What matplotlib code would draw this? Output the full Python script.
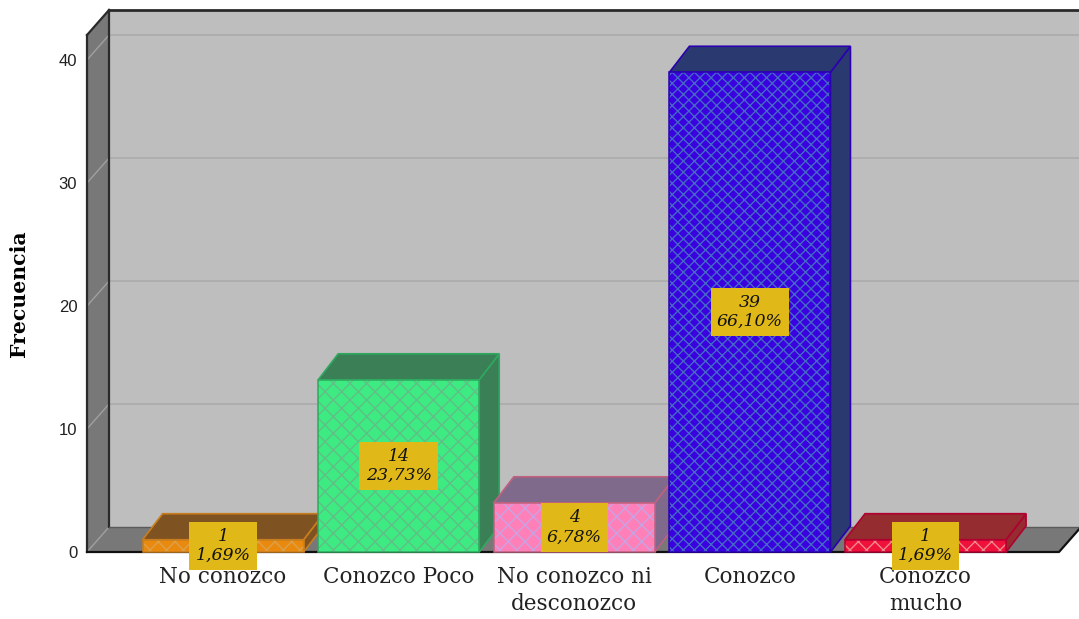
import matplotlib
matplotlib.use('Agg')
import matplotlib.pyplot as plt

categorias = ['No conozco', 'Conozco Poco', 'No conozco ni\ndesconozco', 'Conozco', 'Conozco\nmucho']
frecuencia = [1, 14, 4, 39, 1]
porcentaje = ['1,69%', '23,73%', '6,78%', '66,10%', '1,69%']
yticks = [0, 10, 20, 30, 40]

color_frente = ['#E98A0E', '#3DEB82', '#FF80B8', '#3A00E0', '#F0103C']
color_trama = ['#DCA04A', '#62BE86', '#C8A2E2', '#4468C4', '#F28A8A']
color_borde = ['#C87E1E', '#2FA860', '#C0607F', '#2A00B0', '#B00030']
color_tapa = ['#7F5222', '#3A7F56', '#806A8C', '#2A3A70', '#942C30']
trama = ['xx', 'xx', 'xx', 'xxx', 'xx']

ancho = 0.917
xmin, xmax = -0.775, 4.76
ymax = 42.03
# profundidad del efecto 3D, en unidades de datos
prof_x = 22 / 175.5
prof_y = 25 / 12.3
barra_x = 20 / 175.5
barra_y = 26 / 12.3

plt.rcParams['hatch.linewidth'] = 1.0
fig = plt.figure(figsize=(10.79, 6.19), dpi=100)
ax = fig.add_axes([87 / 1079, 67 / 619, 972 / 1079, 517 / 619])
ax.set_xlim(xmin, xmax)
ax.set_ylim(0, ymax)
for s in ax.spines.values():
    s.set_visible(False)
ax.patch.set_visible(False)

oscuro = '#2A2A2A'
xd = xmax + prof_x + 0.2

# paredes y piso
ax.fill([xmin + prof_x, xd, xd, xmin + prof_x], [prof_y, prof_y, ymax + prof_y, ymax + prof_y],
        color='#BEBEBE', clip_on=False, zorder=1, lw=0)
ax.fill([xmin, xmin + prof_x, xmin + prof_x, xmin], [0, prof_y, ymax + prof_y, ymax],
        color='#787878', clip_on=False, zorder=1, lw=0)
ax.fill([xmin, xmax, xmax + prof_x, xmin + prof_x], [0, 0, prof_y, prof_y],
        color='#787878', clip_on=False, zorder=1, lw=0)

for t in yticks[1:]:
    ax.plot([xmin + prof_x, xd], [t + prof_y, t + prof_y], color='#ABABAB', lw=1.2, clip_on=False, zorder=1.5)
    ax.plot([xmin, xmin + prof_x], [t, t + prof_y], color='#A0A0A0', lw=1, clip_on=False, zorder=1.5)
ax.plot([xmin, xmin + prof_x], [0, prof_y], color='#A0A0A0', lw=1, clip_on=False, zorder=1.5)

ax.plot([xmin + prof_x, xmin + prof_x], [prof_y, ymax + prof_y], color=oscuro, lw=1.6, clip_on=False, zorder=1.6)
ax.plot([xmin + prof_x, xd], [ymax + prof_y, ymax + prof_y], color=oscuro, lw=2, clip_on=False, zorder=1.6)
ax.plot([xmin, xmin], [0, ymax], color=oscuro, lw=1.6, clip_on=False, zorder=1.6)
ax.plot([xmin, xmin + prof_x], [ymax, ymax + prof_y], color=oscuro, lw=1.6, clip_on=False, zorder=1.6)
ax.plot([xmin, xmax, xmax + prof_x], [0, 0, prof_y], color='#111111', lw=1.6, clip_on=False, zorder=1.6)
ax.plot([xmin + prof_x, xd], [prof_y, prof_y], color='#5A5A5A', lw=1, clip_on=False, zorder=1.6)

# barras de izquierda a derecha
for i, v in enumerate(frecuencia):
    z = 2 + i * 0.1
    x0 = i - ancho / 2
    x1 = i + ancho / 2
    ax.fill([x1, x1 + barra_x, x1 + barra_x, x1], [0, barra_y, v + barra_y, v],
            facecolor=color_tapa[i], edgecolor=color_borde[i], lw=1.2, clip_on=False, zorder=z)
    ax.fill([x0, x1, x1 + barra_x, x0 + barra_x], [v, v, v + barra_y, v + barra_y],
            facecolor=color_tapa[i], edgecolor=color_borde[i], lw=1.2, clip_on=False, zorder=z)
    ax.bar(i, v, ancho, color=color_frente[i], edgecolor=color_trama[i], hatch=trama[i],
           linewidth=0, clip_on=False, zorder=z + 0.01)
    ax.bar(i, v, ancho, fill=False, edgecolor=color_borde[i], linewidth=1.1, clip_on=False, zorder=z + 0.02)

ax.set_xticks(range(len(categorias)))
ax.set_xticklabels(categorias, family='DejaVu Serif', fontsize=15.5, fontweight='light',
                   linespacing=1.3, color='#222222')
ax.tick_params(axis='x', length=0, pad=10)
ax.set_yticks(yticks)
ax.set_yticklabels([str(t) for t in yticks], family='Liberation Sans', fontsize=12, color='#222222')
ax.tick_params(axis='y', length=0, pad=7)
ax.set_ylabel('Frecuencia', family='DejaVu Serif', fontweight='bold', fontsize=14.7, labelpad=21)

# etiquetas de cada barra
for i, v in enumerate(frecuencia):
    ax.text(i, v / 2, str(v) + '\n' + porcentaje[i], ha='center', va='center', family='DejaVu Serif',
            style='italic', fontsize=12.5, linespacing=1.15, color='#111111', clip_on=False, zorder=5,
            bbox=dict(boxstyle='square,pad=0.36', fc='#E0B818', ec='none'))

fig.savefig('out.png', dpi=100)
